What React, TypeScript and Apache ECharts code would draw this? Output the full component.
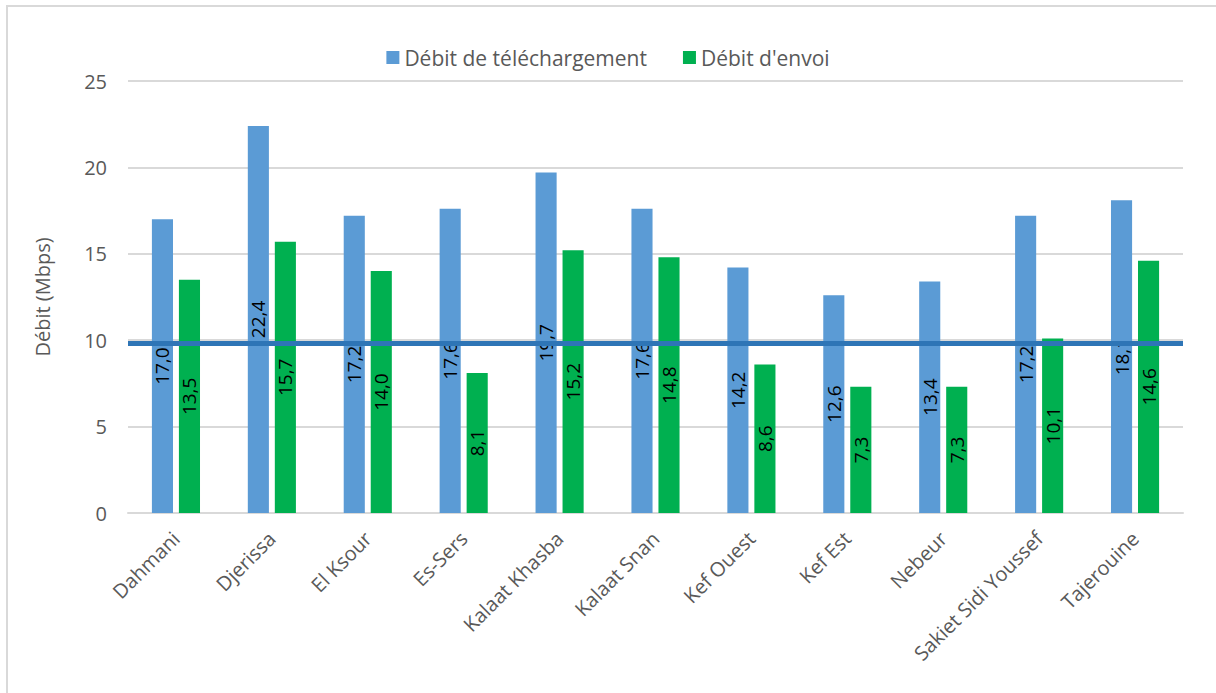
import React, { useEffect, useRef } from "react";
import * as echarts from "echarts";

const categories = [
  "Dahmani",
  "Djerissa",
  "El Ksour",
  "Es-Sers",
  "Kalaat Khasba",
  "Kalaat Snan",
  "Kef Ouest",
  "Kef Est",
  "Nebeur",
  "Sakiet Sidi Youssef",
  "Tajerouine",
];
const downloadValues = [17.0, 22.4, 17.2, 17.6, 19.7, 17.6, 14.2, 12.6, 13.4, 17.2, 18.1];
const uploadValues = [13.5, 15.7, 14.0, 8.1, 15.2, 14.8, 8.6, 7.3, 7.3, 10.1, 14.6];
const referenceValue = 9.85;
const yTicks = { min: 0, max: 25, interval: 5 };

const FONT = "'Open Sans', 'Noto Sans', sans-serif";

export default function App() {
  const ref = useRef<HTMLDivElement>(null);
  useEffect(() => {
    document.body.style.margin = "0";
    if (!ref.current) return;
    const chart = echarts.init(ref.current, null, { renderer: "svg" });
    const fmt = (p: any) => Number(p.value).toFixed(1).replace(".", ",");
    const labelCfg = {
      show: true,
      position: "inside",
      rotate: 90,
      align: "center",
      verticalAlign: "middle",
      color: "#000000",
      fontSize: 19,
      fontFamily: FONT,
      formatter: fmt,
    };
    chart.setOption({
      animation: false,
      textStyle: { fontFamily: FONT },
      graphic: [
        {
          type: "rect",
          x: 7,
          y: 6,
          shape: { width: 1240, height: 720 },
          style: { fill: "none", stroke: "#d9d9d9", lineWidth: 2 },
          silent: true,
        },
      ],
      legend: {
        top: 42,
        left: "center",
        itemWidth: 13,
        itemHeight: 13,
        itemGap: 36,
        icon: "rect",
        textStyle: { color: "#595959", fontSize: 21, fontFamily: FONT },
        data: ["Débit de téléchargement", "Débit d'envoi"],
      },
      grid: { left: 128, right: 33, top: 81, bottom: 180 },
      xAxis: {
        type: "category",
        data: categories,
        axisLine: { show: true, lineStyle: { color: "#d9d9d9", width: 2 } },
        axisTick: { show: false },
        axisLabel: {
          rotate: 45,
          interval: 0,
          margin: 22,
          color: "#595959",
          fontSize: 20,
          fontFamily: FONT,
        },
      },
      yAxis: {
        type: "value",
        min: yTicks.min,
        max: yTicks.max,
        interval: yTicks.interval,
        name: "Débit (Mbps)",
        nameLocation: "middle",
        nameGap: 76,
        nameTextStyle: { color: "#595959", fontSize: 20, fontFamily: FONT },
        axisLine: { show: false },
        axisTick: { show: false },
        axisLabel: { color: "#595959", fontSize: 20, margin: 21, fontFamily: FONT },
        splitLine: { lineStyle: { color: "#d9d9d9", width: 2 } },
      },
      series: [
        {
          name: "Débit de téléchargement",
          type: "bar",
          data: downloadValues,
          barWidth: "22%",
          barGap: "28%",
          itemStyle: { color: "#5B9BD5" },
          label: labelCfg,
          markLine: {
            z: 10,
            silent: true,
            symbol: ["none", "none"],
            label: { show: false },
            lineStyle: { color: "#2E75B6", width: 5, type: "solid" },
            data: [{ yAxis: referenceValue }],
          },
        },
        {
          name: "Débit d'envoi",
          type: "bar",
          data: uploadValues,
          barWidth: "22%",
          barGap: "28%",
          itemStyle: { color: "#00B050" },
          label: labelCfg,
        },
      ],
    });
    return () => chart.dispose();
  }, []);
  return <div ref={ref} style={{ width: 1216, height: 693 }} />;
}
